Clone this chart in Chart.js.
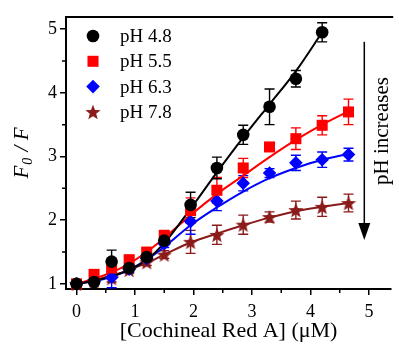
<!DOCTYPE html>
<html>
<head>
<meta charset="utf-8">
<script src="https://cdn.jsdelivr.net/npm/chart.js@4.4.0/dist/chart.umd.min.js"></script>
<style>
body { margin: 0; background: #fff; }
#wrap { width: 399px; height: 344px; }
</style>
</head>
<body>
<div id="wrap"><canvas id="grafico" width="399" height="344"></canvas></div>
<script>
// concentração de Cochineal Red A (uM)
var conc = [0, 0.3, 0.6, 0.9, 1.2, 1.5, 1.95, 2.4, 2.85, 3.3, 3.75, 4.2, 4.65];

var rotulos = ['pH 4.8', 'pH 5.5', 'pH 6.3', 'pH 7.8'];
var cores = ['#000000', '#ff0000', '#0000ff', '#8b1a1a'];

// F0/F medidos (pH 4.8 vai só até 4.2)
var ph48 = [1.0, 1.03, 1.35, 1.25, 1.42, 1.68, 2.24, 2.82, 3.34, 3.78, 4.22, 4.95];
var ph55 = [1.0, 1.15, 1.25, 1.38, 1.5, 1.76, 2.15, 2.47, 2.82, 3.15, 3.28, 3.49, 3.7];
var ph63 = [1.0, 1.04, 1.1, 1.23, 1.4, 1.63, 1.98, 2.3, 2.58, 2.74, 2.9, 2.95, 3.03];
var ph78 = [1.0, 1.04, 1.09, 1.22, 1.34, 1.46, 1.66, 1.77, 1.93, 2.05, 2.16, 2.21, 2.27];

// barras de erro (+/-)
var erro48 = [0.04, 0.04, 0.18, 0.05, 0.05, 0.06, 0.2, 0.17, 0.15, 0.28, 0.13, 0.15];
var erro55 = [0.04, 0.05, 0.06, 0.05, 0.06, 0.08, 0.2, 0.2, 0.15, 0.05, 0.17, 0.15, 0.2];
var erro63 = [0.04, 0.04, 0.16, 0.05, 0.05, 0.06, 0.2, 0.15, 0.12, 0.07, 0.12, 0.12, 0.1];
var erro78 = [0.04, 0.04, 0.06, 0.05, 0.05, 0.06, 0.18, 0.15, 0.15, 0.08, 0.14, 0.15, 0.14];

// curvas ajustadas
var ajuste48 = [1.0, 1.05, 1.12, 1.22, 1.38, 1.64, 2.18, 2.75, 3.3, 3.82, 4.34, 4.95];
var ajuste55 = [1.0, 1.08, 1.18, 1.32, 1.5, 1.72, 2.08, 2.41, 2.7, 2.99, 3.26, 3.5, 3.71];
var ajuste63 = [1.0, 1.04, 1.11, 1.22, 1.38, 1.58, 1.92, 2.2, 2.45, 2.66, 2.82, 2.95, 3.04];
var ajuste78 = [1.0, 1.06, 1.13, 1.22, 1.33, 1.46, 1.65, 1.79, 1.92, 2.04, 2.14, 2.21, 2.27];

var ticksX = [0, 1, 2, 3, 4, 5];
var ticksY = [1, 2, 3, 4, 5];
var minorX = [0.5, 1.5, 2.5, 3.5, 4.5];
var minorY = [1.5, 2.5, 3.5, 4.5];

var fonte = "'Liberation Serif', 'Times New Roman', serif";

function criarEstrela(cor, tam) {
    var c = document.createElement('canvas');
    c.width = tam;
    c.height = tam;
    var g = c.getContext('2d');
    var r = tam / 2;
    g.beginPath();
    for (var i = 0; i < 10; i++) {
        var ang = -Math.PI / 2 + i * Math.PI / 5;
        var rr = i % 2 === 0 ? r : r * 0.42;
        g.lineTo(r + rr * Math.cos(ang), r + rr * Math.sin(ang) + r * 0.1);
    }
    g.closePath();
    g.fillStyle = cor;
    g.fill();
    return c;
}

var estrela = criarEstrela(cores[3], 16);
var simbolos = ['circle', 'rect', 'rectRot', estrela];
var raios = [6.3, 7.8, 6.8, 7];

function pares(ys) {
    return ys.map(function (y, i) { return { x: conc[i], y: y }; });
}

var medidos = [ph48, ph55, ph63, ph78];
var erros = [erro48, erro55, erro63, erro78];
var ajustes = [ajuste48, ajuste55, ajuste63, ajuste78];

var datasets = [];
for (var i = 0; i < 4; i++) {
    datasets.push({
        label: rotulos[i],
        data: pares(medidos[i]),
        showLine: false,
        pointStyle: simbolos[i],
        pointRadius: raios[i],
        pointHoverRadius: raios[i],
        pointBackgroundColor: cores[i],
        pointBorderColor: cores[i],
        pointBorderWidth: 0,
        clip: false,
        order: i + 1
    });
    datasets.push({
        label: rotulos[i] + ' ajuste',
        data: pares(ajustes[i]),
        showLine: true,
        pointRadius: 0,
        borderColor: cores[i],
        borderWidth: 2,
        cubicInterpolationMode: 'monotone',
        fill: false,
        clip: false,
        order: 10 + i
    });
}

// barras de erro, ticks menores, moldura, legenda e seta
var extras = {
    id: 'extras',
    beforeDatasetsDraw: function (chart) {
        var ctx = chart.ctx;
        var sx = chart.scales.x, sy = chart.scales.y;
        ctx.save();
        ctx.lineWidth = 1.4;
        for (var s = 3; s >= 0; s--) {
            ctx.strokeStyle = cores[s];
            medidos[s].forEach(function (v, k) {
                var px = sx.getPixelForValue(conc[k]);
                var y1 = sy.getPixelForValue(v + erros[s][k]);
                var y2 = sy.getPixelForValue(v - erros[s][k]);
                ctx.beginPath();
                ctx.moveTo(px, y1); ctx.lineTo(px, y2);
                ctx.moveTo(px - 5, y1); ctx.lineTo(px + 5, y1);
                ctx.moveTo(px - 5, y2); ctx.lineTo(px + 5, y2);
                ctx.stroke();
            });
        }
        ctx.restore();
    },
    afterDraw: function (chart) {
        var ctx = chart.ctx;
        var a = chart.chartArea;
        var sx = chart.scales.x, sy = chart.scales.y;
        ctx.save();
        ctx.strokeStyle = '#000';
        ctx.lineWidth = 2;
        ctx.beginPath();
        ctx.moveTo(a.left - 1, a.top);
        ctx.lineTo(a.right + 2, a.top);
        ctx.stroke();

        ctx.lineWidth = 1.5;
        ctx.beginPath();
        minorX.forEach(function (v) {
            var px = sx.getPixelForValue(v);
            ctx.moveTo(px, a.bottom); ctx.lineTo(px, a.bottom + 4);
        });
        minorY.forEach(function (v) {
            var py = sy.getPixelForValue(v);
            ctx.moveTo(a.left, py); ctx.lineTo(a.left - 4, py);
        });
        ctx.stroke();

        // legenda
        ctx.font = '19px ' + fonte;
        ctx.textBaseline = 'middle';
        ctx.textAlign = 'left';
        for (var i = 0; i < 4; i++) {
            var ly = a.top + 19 + i * 25.3;
            var lx = a.left + 27;
            ctx.fillStyle = cores[i];
            if (Chart.helpers && Chart.helpers.drawPoint) {
                Chart.helpers.drawPoint(ctx, { pointStyle: simbolos[i], radius: raios[i], borderWidth: 0, rotation: 0 }, lx, ly);
            }
            ctx.fillStyle = '#000';
            ctx.fillText(rotulos[i], a.left + 54, ly + 1);
        }

        // seta "pH increases"
        var ax = sx.getPixelForValue(4.92);
        var ay1 = sy.getPixelForValue(4.8);
        var ay2 = sy.getPixelForValue(1.69);
        ctx.lineWidth = 1.5;
        ctx.beginPath();
        ctx.moveTo(ax, ay1); ctx.lineTo(ax, ay2 - 15);
        ctx.stroke();
        ctx.fillStyle = '#000';
        ctx.beginPath();
        ctx.moveTo(ax - 6, ay2 - 17);
        ctx.lineTo(ax + 6, ay2 - 17);
        ctx.lineTo(ax, ay2);
        ctx.closePath();
        ctx.fill();

        ctx.save();
        ctx.translate(sx.getPixelForValue(5.33), sy.getPixelForValue(3.4));
        ctx.rotate(-Math.PI / 2);
        ctx.font = '21px ' + fonte;
        ctx.textAlign = 'center';
        ctx.textBaseline = 'alphabetic';
        ctx.fillText('pH increases', 0, 0);
        ctx.restore();

        // titulo do eixo y: F0 / F
        ctx.save();
        ctx.translate(28, (a.top + a.bottom) / 2);
        ctx.rotate(-Math.PI / 2);
        ctx.textBaseline = 'alphabetic';
        ctx.textAlign = 'left';
        var fG = 'italic 21px ' + fonte;
        var fP = 'italic 14px ' + fonte;
        ctx.font = fG;
        var w1 = ctx.measureText('F').width;
        var w3 = ctx.measureText(' / F').width;
        ctx.font = fP;
        var w2 = ctx.measureText('0').width + 2;
        var x0 = -(w1 + w2 + w3) / 2;
        ctx.font = fG;
        ctx.fillText('F', x0, 0);
        ctx.font = fP;
        ctx.fillText('0', x0 + w1 + 1, 4);
        ctx.font = fG;
        ctx.fillText(' / F', x0 + w1 + w2, 0);
        ctx.restore();

        ctx.restore();
    }
};

var ctx = document.getElementById('grafico').getContext('2d');
var chart = new Chart(ctx, {
    type: 'scatter',
    data: { datasets: datasets },
    options: {
        responsive: false,
        animation: false,
        events: [],
        layout: { padding: { top: 17, right: 0, left: 0, bottom: 0 } },
        plugins: {
            legend: { display: false },
            tooltip: { enabled: false }
        },
        scales: {
            x: {
                type: 'linear',
                min: -0.18,
                max: 5.38,
                afterFit: function (scale) { scale.height = 55; },
                afterBuildTicks: function (scale) {
                    scale.ticks = ticksX.map(function (v) { return { value: v }; });
                },
                ticks: {
                    color: '#000',
                    font: { family: fonte, size: 18 },
                    padding: 6,
                    maxRotation: 0,
                    callback: function (v) { return String(v); }
                },
                grid: { drawOnChartArea: false, drawTicks: true, tickLength: 6, color: '#000', lineWidth: 1.5 },
                border: { display: true, color: '#000', width: 2 },
                title: {
                    display: true,
                    text: '[Cochineal Red A] (\u03bcM)',
                    color: '#000',
                    font: { family: fonte, size: 22 },
                    padding: { top: 0, bottom: 0 }
                }
            },
            y: {
                type: 'linear',
                min: 0.92,
                max: 5.19,
                afterFit: function (scale) { scale.width = 66; },
                afterBuildTicks: function (scale) {
                    scale.ticks = ticksY.map(function (v) { return { value: v }; });
                },
                ticks: {
                    color: '#000',
                    font: { family: fonte, size: 18 },
                    padding: 3,
                    callback: function (v) { return String(v); }
                },
                grid: { drawOnChartArea: false, drawTicks: true, tickLength: 6, color: '#000', lineWidth: 1.5 },
                border: { display: true, color: '#000', width: 2 }
            }
        }
    },
    plugins: [extras]
});
</script>
</body>
</html>
